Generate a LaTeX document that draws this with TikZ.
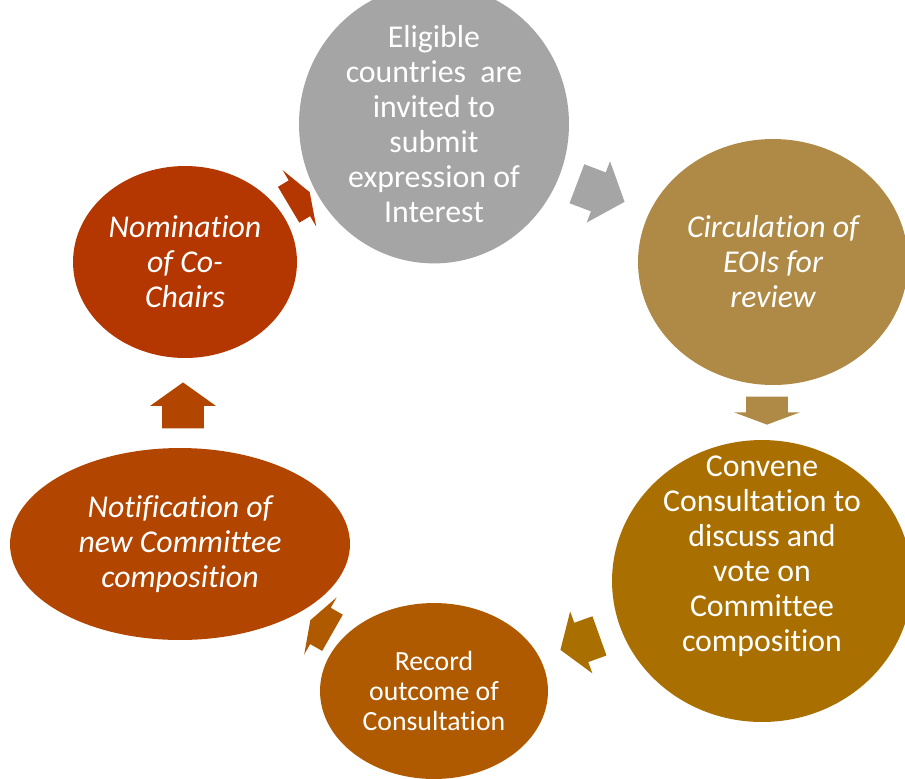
\documentclass[tikz,border=0pt]{standalone}
\usepackage{fontspec}
\setmainfont{Carlito}[Ligatures=NoCommon]
\usetikzlibrary{shapes.geometric,shapes.arrows}
\definecolor{cgray}{HTML}{A5A5A5}
\definecolor{ctan}{HTML}{AE8A46}
\definecolor{cgold}{HTML}{A96F00}
\definecolor{cbrown}{HTML}{AF5A00}
\definecolor{crust}{HTML}{B24600}
\definecolor{cred}{HTML}{B43600}
\tikzset{%
  stage/.style    = { ellipse, fill = #1, text = white, align = center, inner sep = 0pt,
                      font = \fontsize{18.1}{19.9}\selectfont },
  slant/.style    = { font = \fontsize{18.1}{19.9}\selectfont\itshape },
  stagetext/.style= { text = white, align = center, inner sep = 0pt,
                      font = \fontsize{18.1}{19.9}\selectfont },
  flow/.style     = { single arrow, fill = #1, draw = none, inner xsep = 0pt, inner ysep = 0.41cm,
                      anchor = tip, single arrow head extend = 0.24cm }
}

\begin{document}
\begin{tikzpicture}[x=0.02cm,y=-0.02cm]
\useasboundingbox (0,0) rectangle (905,778);

\node(E) [stage=cgray, minimum width=5.4cm, minimum height=4.56cm] at (434,124)
  {Eligible\\countries~~are\\invited to\\submit\\expression of\\Interest};
\node(C) [stage=ctan, slant, minimum width=5.4cm, minimum height=4.92cm] at (773,262)
  {Circulation of\\EOIs for\\review};
\node(V) [stage=cgold, minimum width=6.0cm, minimum height=5.64cm] at (762,581) {};
\node(VT) [stagetext] at (762,556)
  {Convene\\Consultation to\\discuss and\\vote on\\Committee\\composition};
\node(R) [stage=cbrown, minimum width=4.56cm, minimum height=3.52cm,
          font=\fontsize{15.8}{17}\selectfont] at (434,691)
  {Record\\outcome of\\Consultation};
\node(N) [stage=crust, slant, minimum width=6.8cm, minimum height=3.84cm] at (180,544)
  {Notification of\\new Committee\\composition};
\node(M) [stage=cred, slant, minimum width=4.48cm, minimum height=3.84cm] at (185,262)
  {Nomination\\of Co-\\Chairs};

% block arrows between the stages
\node(a1) [flow=cred,   rotate=30.8,  minimum height=0.49cm, single arrow tip angle=140] at (310,192) {};
\node(a2) [flow=cgray,  rotate=-20.8, minimum height=1.02cm, single arrow tip angle=99]  at (625,202) {};
\node(a3) [flow=ctan,   rotate=-90,   minimum height=0.56cm, single arrow tip angle=139] at (767,425) {};
\node(a4) [flow=cgold,  rotate=199.7, minimum height=0.83cm, single arrow tip angle=112] at (560,650) {};
\node(a5) [flow=cbrown, rotate=150.4, minimum height=0.51cm, single arrow tip angle=141] at (310,620) {};
\node(a6) [flow=crust,  rotate=90,    minimum height=0.92cm, single arrow tip angle=109] at (183,382) {};
\end{tikzpicture}
\end{document}
